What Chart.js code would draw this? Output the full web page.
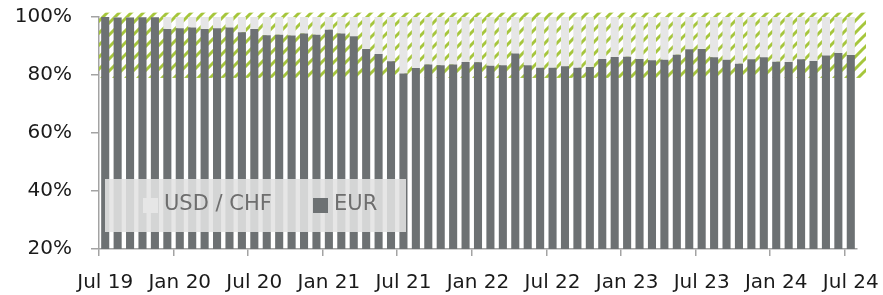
<!DOCTYPE html>
<html>
<head>
<meta charset="utf-8">
<script src="https://cdn.jsdelivr.net/npm/chart.js@4"></script>
<style>
  html, body { margin: 0; padding: 0; background: #fff; }
  #wrap { width: 883px; height: 295px; }
</style>
</head>
<body>
<div id="wrap"><canvas id="chart"></canvas></div>
<script>
// monthly, Jul 19 .. Jul 24
const months = [
  'Jul 19','Aug 19','Sep 19','Oct 19','Nov 19','Dec 19',
  'Jan 20','Feb 20','Mar 20','Apr 20','May 20','Jun 20',
  'Jul 20','Aug 20','Sep 20','Oct 20','Nov 20','Dec 20',
  'Jan 21','Feb 21','Mar 21','Apr 21','May 21','Jun 21',
  'Jul 21','Aug 21','Sep 21','Oct 21','Nov 21','Dec 21',
  'Jan 22','Feb 22','Mar 22','Apr 22','May 22','Jun 22',
  'Jul 22','Aug 22','Sep 22','Oct 22','Nov 22','Dec 22',
  'Jan 23','Feb 23','Mar 23','Apr 23','May 23','Jun 23',
  'Jul 23','Aug 23','Sep 23','Oct 23','Nov 23','Dec 23',
  'Jan 24','Feb 24','Mar 24','Apr 24','May 24','Jun 24',
  'Jul 24'
];

// share of EUR in %
const eurShare = [
  100, 99.8, 99.8, 99.9, 99.9, 95.9,
  96.1, 96.4, 95.9, 96.1, 96.4, 94.7,
  95.9, 93.7, 93.9, 93.6, 94.3, 93.9,
  95.6, 94.3, 93.4, 89.0, 87.2, 84.7,
  80.5, 82.4, 83.6, 83.4, 83.6, 84.5,
  84.4, 83.2, 83.4, 87.4, 83.4, 82.5,
  82.5, 83.0, 82.5, 82.8, 85.5, 86.2,
  86.3, 85.5, 85.1, 85.3, 87.0, 88.9,
  89.0, 86.1, 85.3, 83.9, 85.4, 86.1,
  84.6, 84.5, 85.4, 84.8, 86.7, 87.6,
  86.9
];
// rest of the portfolio
const usdChfShare = eurShare.map(v => +(100 - v).toFixed(1));

const yTicks = [20, 40, 60, 80, 100];
const hatchBand = [79, 101.5]; // hatched target band behind the bars

const EUR_COLOR = '#6d7173';
const USD_COLOR = '#e6e6e6';
const HATCH_COLOR = '#a6c63c';
const AXIS_COLOR = '#a3a3a3';
const FONT = "'DejaVu Sans', sans-serif";

function makeHatch(ctx) {
  const c = document.createElement('canvas');
  c.width = 12; c.height = 12;
  const g = c.getContext('2d');
  g.strokeStyle = HATCH_COLOR;
  g.lineWidth = 3;
  g.beginPath();
  g.moveTo(-3, 15); g.lineTo(15, -3);
  g.moveTo(-3, 3); g.lineTo(3, -3);
  g.moveTo(9, 15); g.lineTo(15, 9);
  g.stroke();
  return ctx.createPattern(c, 'repeat');
}

// green hatch band drawn behind the bars
const hatchPlugin = {
  id: 'hatch',
  beforeDatasetsDraw(chart) {
    const { ctx, chartArea, scales } = chart;
    const top = scales.y.getPixelForValue(hatchBand[1]);
    const bottom = scales.y.getPixelForValue(hatchBand[0]);
    ctx.save();
    ctx.fillStyle = makeHatch(ctx);
    ctx.fillRect(chartArea.left, top, chartArea.right - chartArea.left + 9, bottom - top);
    ctx.restore();
  }
};

// legend sitting on the bars with a see-through box
const boxLegend = {
  id: 'boxLegend',
  afterDatasetsDraw(chart) {
    const { ctx, chartArea } = chart;
    const x0 = chartArea.left + 6, y0 = chartArea.top + 162;
    ctx.save();
    ctx.fillStyle = 'rgba(226,226,226,0.88)';
    ctx.fillRect(x0, y0, 301, 53);
    ctx.font = '21px ' + FONT;
    ctx.textBaseline = 'middle';
    const items = [chart.data.datasets[1], chart.data.datasets[0]];
    let x = x0 + 38;
    items.forEach(ds => {
      ctx.fillStyle = ds.backgroundColor;
      ctx.fillRect(x, y0 + 19, 15, 15);
      ctx.fillStyle = '#6e6e6e';
      ctx.fillText(ds.label, x + 21, y0 + 26);
      x += 170;
    });
    ctx.restore();
  }
};

new Chart(document.getElementById('chart'), {
  type: 'bar',
  data: {
    labels: months,
    datasets: [
      { label: 'EUR', data: eurShare, backgroundColor: EUR_COLOR },
      { label: 'USD / CHF', data: usdChfShare, backgroundColor: USD_COLOR }
    ]
  },
  options: {
    responsive: true,
    maintainAspectRatio: false,
    animation: false,
    layout: { padding: { top: 17, right: 26, left: 0, bottom: 0 } },
    datasets: { bar: { categoryPercentage: 1, barPercentage: 0.65 } },
    plugins: { legend: { display: false }, tooltip: { enabled: false } },
    scales: {
      x: {
        stacked: true,
        afterFit: s => { s.height = 46; s.paddingLeft = 0; s.paddingRight = 0; },
        border: { color: AXIS_COLOR, width: 1.5 },
        grid: {
          drawOnChartArea: false,
          tickLength: 7,
          lineWidth: 1.5,
          color: c => (c.index % 6 === 0 ? AXIS_COLOR : 'rgba(0,0,0,0)')
        },
        ticks: {
          autoSkip: false,
          maxRotation: 0,
          padding: 15,
          color: '#1a1a1a',
          font: { family: FONT, size: 20 },
          callback: (v, i) => (i % 6 === 0 ? months[i] : '')
        }
      },
      y: {
        stacked: true,
        min: yTicks[0],
        max: yTicks[yTicks.length - 1],
        afterFit: s => { s.width = 99; s.paddingTop = 0; s.paddingBottom = 0; },
        afterBuildTicks: s => { s.ticks = yTicks.map(v => ({ value: v })); },
        border: { color: AXIS_COLOR, width: 1.5 },
        grid: { drawOnChartArea: false, tickLength: 8, lineWidth: 1.5, color: AXIS_COLOR },
        ticks: {
          padding: 19,
          color: '#1a1a1a',
          font: { family: FONT, size: 20 },
          callback: v => v + '%'
        }
      }
    }
  },
  plugins: [hatchPlugin, boxLegend]
});
</script>
</body>
</html>
